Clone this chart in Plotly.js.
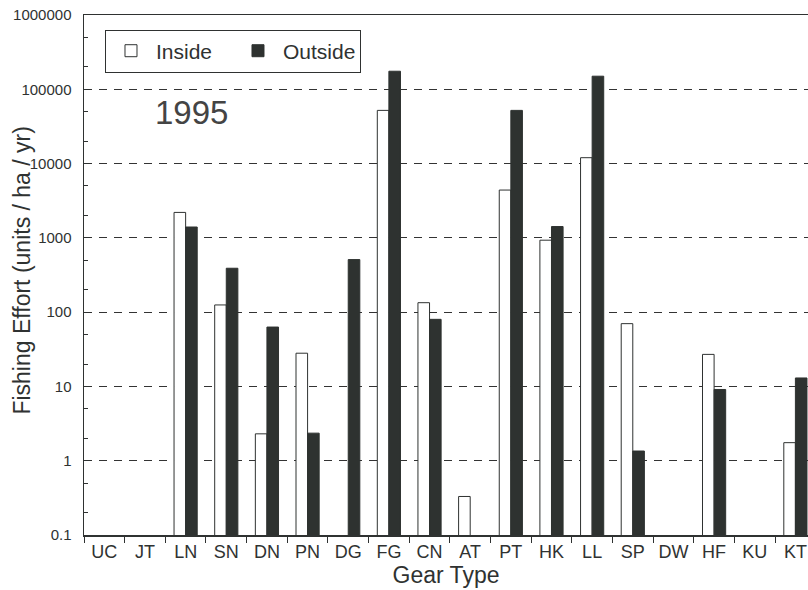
<!DOCTYPE html>
<html>
<head>
<meta charset="utf-8">
<script src="https://cdn.plot.ly/plotly-3.0.1.min.js"></script>
<style>html,body{margin:0;padding:0;background:#fff;}#chart{width:808px;height:590px;}</style>
</head>
<body>
<div id="chart"></div>
<script>
var categories = ["UC","JT","LN","SN","DN","PN","DG","FG","CN","AT","PT","HK","LL","SP","DW","HF","KU","KT"];
var insideValues = [null,null,2200,125,2.3,28,null,52000,134,0.33,4400,930,12000,70,null,27,null,1.75];
var outsideValues = [null,null,1400,390,63,2.35,510,175000,80,null,52000,1420,150000,1.35,null,9.1,null,13];
var yTickVals = [0.1,1,10,100,1000,10000,100000,1000000];
var yTickText = ["0.1","1","10","100","1000","10000","100000","1000000"];
var yearLabel = "1995";
var yTitle = "Fishing Effort (units / ha / yr)";
var xTitle = "Gear Type";

var font = "Liberation Sans, Arial, sans-serif";
var ink = "#2f3231";

var traces = [
  {type:"bar", name:"Inside", x:categories, y:insideValues,
   marker:{color:"#ffffff", line:{color:ink, width:1}}},
  {type:"bar", name:"Outside", x:categories, y:outsideValues,
   marker:{color:"#2e3230", line:{color:"#2e3230", width:1}}}
];

var layout = {
  width:808, height:590,
  margin:{l:84, r:0, t:15, b:55},
  paper_bgcolor:"#ffffff", plot_bgcolor:"#ffffff",
  font:{family:font, color:ink},
  barmode:"group", bargap:0.43, bargroupgap:0,
  showlegend:true,
  legend:{orientation:"h", x:0.029, y:0.972, xanchor:"left", yanchor:"top",
          bordercolor:ink, borderwidth:1, bgcolor:"#ffffff",
          font:{size:21, family:font, color:ink}, itemwidth:40,
          entrywidth:72, entrywidthmode:"pixels"},
  xaxis:{type:"category", range:[-0.5,17.31], showline:true, linecolor:ink, linewidth:1.5,
         mirror:true, ticks:"outside", tickson:"boundaries", ticklen:6, tickcolor:ink,
         tickfont:{size:18, family:font, color:ink}, showgrid:false,
         title:{text:xTitle, font:{size:23, family:font, color:ink}, standoff:2}},
  yaxis:{type:"log", range:[-1,6], showline:true, linecolor:ink, linewidth:1.5,
         tickvals:yTickVals, ticktext:yTickText, ticks:"inside", ticklen:7, tickcolor:ink,
         ticklabelstandoff:8,
         tickfont:{size:15, family:font, color:ink},
         minor:{ticks:"inside", ticklen:4, tickcolor:ink, showgrid:false},
         showgrid:true, gridcolor:"#333333", gridwidth:1, griddash:"8px,7px",
         zeroline:false},
  annotations:[
    {text:yearLabel, xref:"paper", yref:"paper", x:0.149, y:0.813, xanchor:"center", yanchor:"middle",
     showarrow:false, font:{size:33, family:font, color:"#444444"}},
    {text:yTitle, xref:"paper", yref:"paper", x:-0.086, y:0.508, xanchor:"center", yanchor:"middle",
     textangle:-90, showarrow:false, font:{size:23, family:font, color:ink}}
  ]
};

Plotly.newPlot("chart", traces, layout, {displayModeBar:false, staticPlot:true});
</script>
</body>
</html>
